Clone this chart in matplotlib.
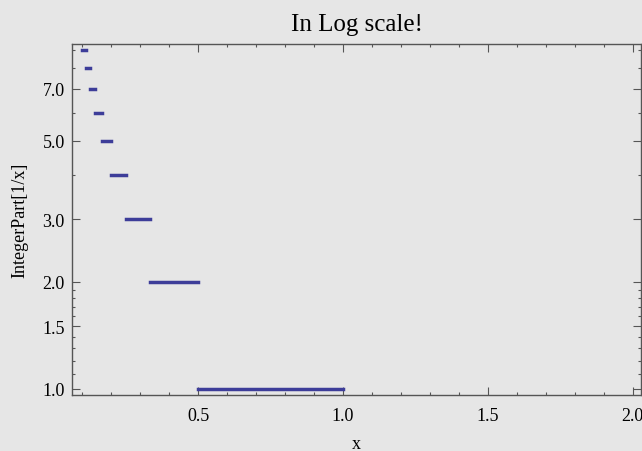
import matplotlib
matplotlib.use('Agg')
import matplotlib.pyplot as plt

# IntegerPart[1/x] steps: level n holds from 1/(n+1) to 1/n
levels = [1, 2, 3, 4, 5, 6, 7, 8, 9]
seg_start = [0.5, 0.3333, 0.25, 0.2, 0.1667, 0.1429, 0.125, 0.1111, 0.1]
seg_end = [1.0, 0.5, 0.3333, 0.25, 0.2, 0.1667, 0.1429, 0.125, 0.1111]

x_major = [0.5, 1.0, 1.5, 2.0]
x_minor = [0.1, 0.2, 0.3, 0.4, 0.6, 0.7, 0.8, 0.9, 1.1, 1.2, 1.3, 1.4,
           1.6, 1.7, 1.8, 1.9]
y_major = [1.0, 1.5, 2.0, 3.0, 5.0, 7.0]
y_minor = [1.1, 1.2, 1.3, 1.4, 1.6, 1.7, 1.8, 1.9, 4.0, 6.0, 8.0, 9.0]

bg = '#e6e6e6'
line_col = '#3d3d99'
frame_col = '#555555'

plt.rcParams['font.family'] = ['Liberation Serif', 'DejaVu Serif']

fig = plt.figure(figsize=(6.42, 4.52), dpi=100, facecolor=bg)
ax = fig.add_axes([0.1117, 0.1228, 0.8875, 0.7781], facecolor=bg)

for lv, x0, x1 in zip(levels, seg_start, seg_end):
    ax.plot([x0, x1], [lv, lv], color=line_col, lw=2.5,
            solid_capstyle='projecting')

ax.set_yscale('log')
ax.set_xlim(0.0634, 2.03)
ax.set_ylim(0.958, 9.37)

ax.set_xticks(x_major)
ax.set_xticks(x_minor, minor=True)
ax.set_xticklabels(['%.1f' % v for v in x_major])
ax.set_yticks(y_major)
ax.set_yticks(y_minor, minor=True)
ax.set_yticklabels(['%.1f' % v for v in y_major])
ax.yaxis.set_minor_formatter(matplotlib.ticker.NullFormatter())

ax.tick_params(which='both', direction='in', top=True, right=True,
               color=frame_col, width=0.8, labelsize=13)
ax.tick_params(which='major', length=5.5)
ax.tick_params(which='minor', length=2.5)
ax.tick_params(axis='x', pad=8)
ax.tick_params(axis='y', pad=5)

for s in ax.spines.values():
    s.set_color(frame_col)
    s.set_linewidth(1.0)

ax.set_title('In Log scale!', fontsize=18, pad=10)
ax.set_xlabel('x', fontsize=13, labelpad=8)
ax.set_ylabel('IntegerPart[1/x]', fontsize=13, labelpad=10)

fig.savefig('out.png', dpi=100, facecolor=bg)
